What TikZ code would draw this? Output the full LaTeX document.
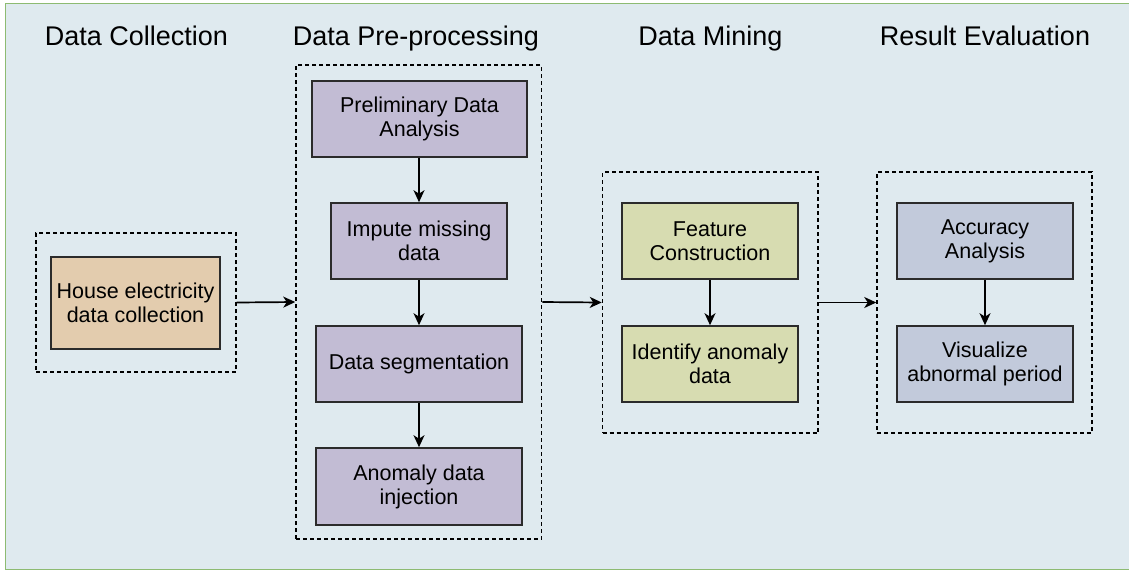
\documentclass[tikz,border=0pt]{standalone}
\usepackage{fontspec}
\setmainfont{Liberation Sans}
\usetikzlibrary{arrows.meta}
\definecolor{bgfill}{HTML}{DFEAEF}
\definecolor{bgline}{HTML}{8DBB72}
\definecolor{tanfill}{HTML}{E3CCAE}
\definecolor{purfill}{HTML}{C2BCD4}
\definecolor{grnfill}{HTML}{D7DCB1}
\definecolor{bluefill}{HTML}{C2CADB}
\definecolor{boxline}{HTML}{2B2B2B}
\tikzset{
  proc/.style={draw=boxline, line width=1.6pt, inner sep=0pt, align=center,
    font=\fontsize{21.5}{24}\selectfont, text=black},
  group/.style={draw=black, line width=1.5pt, dash pattern=on 4pt off 3pt, inner sep=0pt},
  title/.style={font=\fontsize{27}{32}\selectfont, text=black, anchor=base},
  flow/.style={draw=black, line width=1.7pt, -{Stealth[length=12pt,width=11pt,inset=3.5pt]}}
}
\begin{document}
\begin{tikzpicture}[x=1pt,y=-1pt]
\clip (0,0) rectangle (1129,571);
\draw[bgline, fill=bgfill, line width=1.6pt] (5.5,3.5) rectangle (1140,569.5);

% titles
\node[title] (t1) at (136.5,45.5) {Data Collection};
\node[title] (t2) at (416,45.5) {Data Pre-processing};
\node[title] (t3) at (710.5,45.5) {Data Mining};
\node[title] (t4) at (985,45.5) {Result Evaluation};

% groups
\node[group, minimum width=200pt, minimum height=139pt] (dc) at (136,302.5) {};
\node[group, minimum width=245.5pt, minimum height=474pt] (pp) at (418.75,302) {};
\node[group, minimum width=215.5pt, minimum height=261pt] (dm) at (710.25,302.5) {};
\node[group, minimum width=215pt, minimum height=261pt] (re) at (984.5,302.5) {};

% process boxes
\node[proc, fill=tanfill, minimum width=169pt, minimum height=92pt] (house) at (135.5,303) {House electricity\\data collection};

\node[proc, fill=purfill, minimum width=215pt, minimum height=76pt] (prelim) at (419.5,119) {Preliminary Data\\Analysis};
\node[proc, fill=purfill, minimum width=176pt, minimum height=76pt] (impute) at (419,241) {Impute missing\\data};
\node[proc, fill=purfill, minimum width=206pt, minimum height=76pt] (seg) at (419,364) {Data segmentation};
\node[proc, fill=purfill, minimum width=206pt, minimum height=77pt] (anom) at (419,486.5) {Anomaly data\\injection};

\node[proc, fill=grnfill, minimum width=176pt, minimum height=76pt] (feat) at (710,241) {Feature\\Construction};
\node[proc, fill=grnfill, minimum width=176pt, minimum height=76pt] (ident) at (710,364) {Identify anomaly\\data};

\node[proc, fill=bluefill, minimum width=176pt, minimum height=76pt] (acc) at (985,241) {Accuracy\\Analysis};
\node[proc, fill=bluefill, minimum width=176pt, minimum height=76pt] (vis) at (985,364) {Visualize\\abnormal period};

% connectors
\draw[flow] (dc.east) -- (pp.west);
\draw[flow] (pp.east) -- (dm.west);
\draw[flow] (dm.east) -- (re.west);
\draw[flow] (prelim.south -| impute.north) -- (impute.north);
\draw[flow] (impute) -- (seg);
\draw[flow] (seg) -- (anom);
\draw[flow] (feat) -- (ident);
\draw[flow] (acc) -- (vis);
\end{tikzpicture}
\end{document}
